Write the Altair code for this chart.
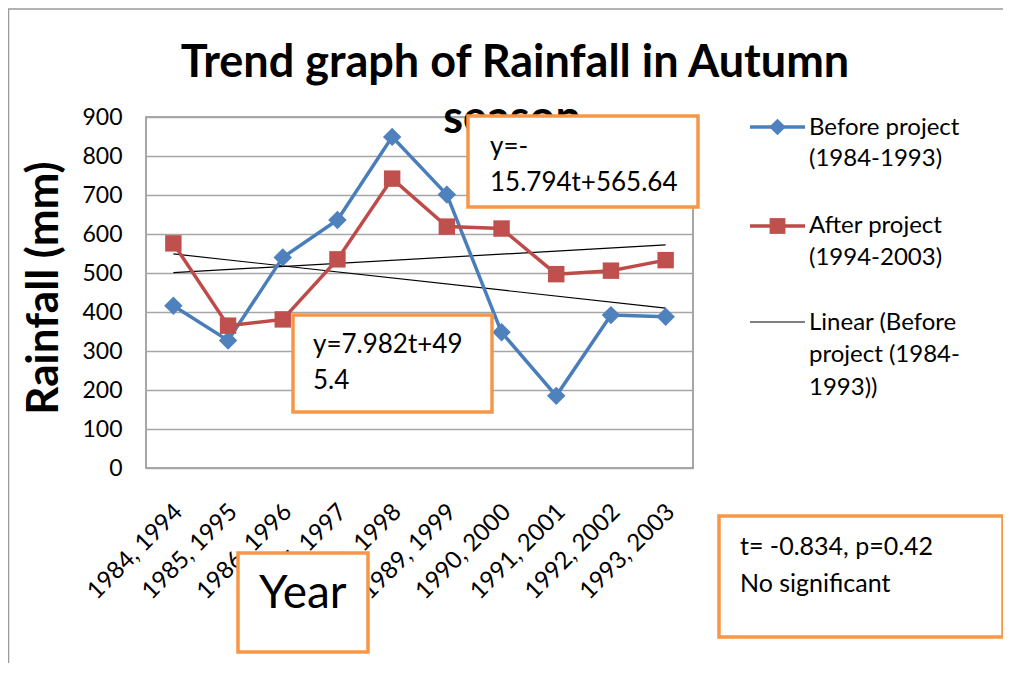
import altair as alt
import pandas as pd

# ---- data ----
years = ["1984, 1994", "1985, 1995", "1986, 1996", "1987, 1997", "1988, 1998",
         "1989, 1999", "1990, 2000", "1991, 2001", "1992, 2002", "1993, 2003"]
before = [416, 327, 540, 636, 849, 701, 348, 185, 392, 388]
after = [576, 365, 381, 535, 742, 619, 614, 497, 506, 533]
trend_cats = [years[0], years[-1]]
trend_before = [549, 410]
trend_after = [501, 572]
y_ticks = [0, 100, 200, 300, 400, 500, 600, 700, 800, 900]

s_before = "Before project (1984-1993)"
s_after = "After project (1994-2003)"

df = pd.DataFrame(
    [{"cat": c, "value": v, "series": s_before} for c, v in zip(years, before)]
    + [{"cat": c, "value": v, "series": s_after} for c, v in zip(years, after)]
)
tdf = pd.DataFrame(
    [{"cat": c, "value": v, "series": "tb"} for c, v in zip(trend_cats, trend_before)]
    + [{"cat": c, "value": v, "series": "ta"} for c, v in zip(trend_cats, trend_after)]
)

FONT = "Lato"
BLUE_L, BLUE_M = "#4A7EBB", "#4F81BD"
RED_L, RED_M = "#BE4B48", "#C0504D"
ORANGE = "#F79646"

xenc = alt.X("cat:N", sort=years, scale=alt.Scale(type="point", padding=0.5),
             axis=alt.Axis(title=None, labelAngle=315, labelAlign="right",
                           labelBaseline="middle", labelPadding=40, labelOffset=5,
                           labelFont=FONT, labelFontSize=24, labelColor="black",
                           labelOverlap=False, labelBound=False, labelFlush=False,
                           ticks=False, domain=False, grid=False, zindex=0))
yenc = alt.Y("value:Q", scale=alt.Scale(domain=[0, 900], nice=False, zero=True),
             axis=alt.Axis(title=None, values=y_ticks, labelFont=FONT, labelFontSize=23,
                           labelColor="black", labelPadding=24, ticks=False, domain=False,
                           grid=True, gridColor="#a6a6a6", gridWidth=1.5, zindex=0))

color_scale = alt.Scale(domain=[s_before, s_after], range=[BLUE_L, RED_L])

trend = alt.Chart(tdf).mark_line(color="black", strokeWidth=1.2).encode(
    x=xenc, y=yenc, detail="series:N")

lines = alt.Chart(df).mark_line(strokeWidth=3.5).encode(
    x=xenc, y=yenc, color=alt.Color("series:N", scale=color_scale, legend=None))

pts_b = alt.Chart(df[df.series == s_before]).mark_point(
    shape="diamond", filled=True, size=340, color=BLUE_M, opacity=1).encode(x=xenc, y=yenc)
pts_a = alt.Chart(df[df.series == s_after]).mark_point(
    shape="square", filled=True, size=270, color=RED_M, opacity=1).encode(x=xenc, y=yenc)

one = alt.Data(values=[{}])


def txt(s, x, y, size, bold=False, align="left", angle=None):
    kw = dict(text=s, font=FONT, fontSize=size, color="black", align=align,
              baseline="alphabetic", fontWeight="bold" if bold else "normal")
    if angle is not None:
        kw["angle"] = angle
        kw["baseline"] = "middle"
    return alt.Chart(one).mark_text(**kw).encode(x=alt.value(x), y=alt.value(y))


def box(x1, x2, y1, y2):
    return alt.Chart(one).mark_rect(fill="white", stroke=ORANGE, strokeWidth=3.5).encode(
        x=alt.value(x1), x2=alt.value(x2), y=alt.value(y1), y2=alt.value(y2))


def rule(x1, x2, y, color, w):
    return alt.Chart(one).mark_rule(color=color, strokeWidth=w).encode(
        x=alt.value(x1), x2=alt.value(x2), y=alt.value(y))


def vrule(x, y1, y2, color, w):
    return alt.Chart(one).mark_rule(color=color, strokeWidth=w).encode(
        x=alt.value(x), y=alt.value(y1), y2=alt.value(y2))


def sym(shape, x, y, size, color):
    return alt.Chart(one).mark_point(shape=shape, filled=True, size=size, color=color,
                                     opacity=1).encode(x=alt.value(x), y=alt.value(y))


layers = [
    # outer chart frame
    rule(-138, 859, -108, "#9a9a9a", 1.5),
    vrule(-137.5, -108, 546, "#9a9a9a", 1.5),
    trend, lines, pts_b, pts_a,
    # title
    txt("Trend graph of Rainfall in Autumn", 369, -40, 45, bold=True, align="center"),
    txt("season", 366, 16, 45, bold=True, align="center"),
    # y title
    txt("Rainfall (mm)", -101, 171, 44, bold=True, align="center", angle=270),
    # equation boxes
    box(322, 552, -1, 90),
    txt("y=-", 344, 38, 26),
    txt("15.794t+565.64", 344, 74, 26),
    box(147, 346, 198, 295),
    txt("y=7.982t+49", 167, 236, 26),
    txt("5.4", 167, 272, 26),
    box(573, 857, 399, 520),
    txt("t= -0.834, p=0.42", 594, 438, 25),
    txt("No significant", 594, 475, 25),
    box(92, 222, 436, 535),
    txt("Year", 113, 491, 46),
    # legend
    rule(604, 659, 10, BLUE_L, 3.5),
    sym("diamond", 631.5, 10, 280, BLUE_M),
    txt("Before project", 663, 18, 24),
    txt("(1984-1993)", 663, 49, 24),
    rule(604, 659, 109, RED_L, 3.5),
    sym("square", 631.5, 109, 250, RED_M),
    txt("After project", 663, 116, 24),
    txt("(1994-2003)", 663, 148, 24),
    rule(604, 659, 205, "black", 1.2),
    txt("Linear (Before", 663, 213, 24),
    txt("project (1984-", 663, 245, 24),
    txt("1993))", 663, 278, 24),
]

chart = alt.layer(*layers).properties(
    width=547, height=351,
    padding={"left": 138, "top": 109, "right": 310, "bottom": 195},
    autosize=alt.AutoSizeParams(type="none"),
    background="white",
).configure_view(stroke="#8a8a8a", strokeWidth=1.5)

chart.save("out.html", embed_options={"renderer": "svg", "actions": False})
